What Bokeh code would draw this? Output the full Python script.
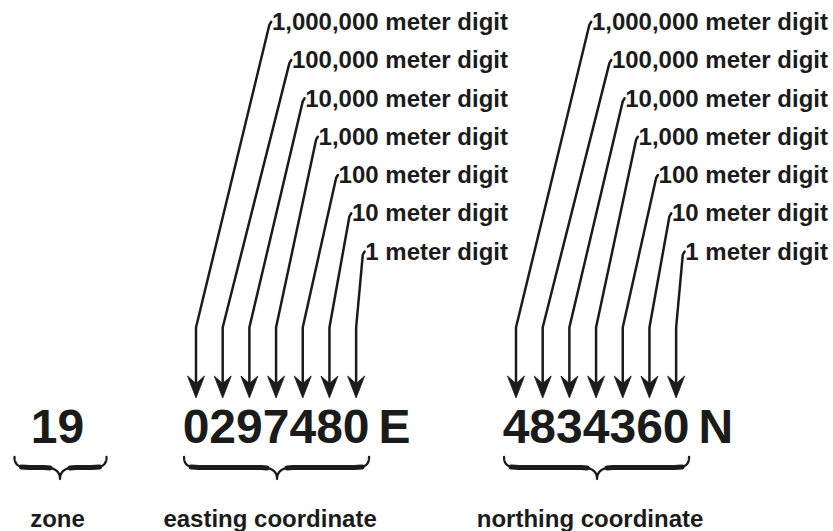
import numpy as np
from bokeh.plotting import figure
from bokeh.models import Range1d
from bokeh.core.properties import value
from bokeh.embed import file_html
from bokeh.resources import INLINE

# ---------------- data ----------------
zone = "19"
easting = "0297480"
easting_suffix = "E"
northing = "4834360"
northing_suffix = "N"
place_labels = [
    "1,000,000 meter digit",
    "100,000 meter digit",
    "10,000 meter digit",
    "1,000 meter digit",
    "100 meter digit",
    "10 meter digit",
    "1 meter digit",
]
section_labels = ["zone", "easting coordinate", "northing coordinate"]

# ---------------- style / layout ----------------
FONT = "Liberation Sans"
INK = "#1b1b1b"
LABEL_SIZE = 24
BIG_SIZE = 48
MID = 0.35  # distance from baseline to the middle of the text box, in em
# Liberation Sans Bold (Arial-metric) advance widths, in em
ADV = {c: 0.556 for c in "0123456789"}
ADV.update({",": 0.278, " ": 0.278, "m": 0.889, "e": 0.556, "t": 0.333,
            "r": 0.389, "d": 0.611, "i": 0.278, "g": 0.611})


def text_width(s, size):
    return sum(ADV[c] for c in s) * size


digit_adv = ADV["0"] * BIG_SIZE
row0, row_step = 29.3, 38.3           # baselines of the place labels
bend_y, head_base, notch_y, tip_y = 327, 375.5, 383, 397.5
num_baseline = 443
brace_end_y, brace_arm_y, brace_tip_y = 456.5, 467, 478.5
section_baseline = 526.5

groups = [
    dict(digits=easting, suffix=easting_suffix, first_x=195.5, label_right=507.5,
         title=section_labels[1]),
    dict(digits=northing, suffix=northing_suffix, first_x=515.5, label_right=827.5,
         title=section_labels[2]),
]

W, H = 833, 531
p = figure(width=W, height=H, x_range=Range1d(0, W), y_range=Range1d(H, 0),
           output_backend="svg", toolbar_location=None, min_border=0,
           x_axis_location=None, y_axis_location=None)
p.grid.visible = False
p.outline_line_color = None
p.background_fill_color = "white"
p.border_fill_color = "white"


def cubic(p0, p1, p2, p3, n=30):
    t = np.linspace(0, 1, n)[:, None]
    p0, p1, p2, p3 = map(np.asarray, (p0, p1, p2, p3))
    return (1 - t) ** 3 * p0 + 3 * (1 - t) ** 2 * t * p1 + 3 * (1 - t) * t ** 2 * p2 + t ** 3 * p3


brace_thin_xs, brace_thin_ys = [], []
brace_thick_xs, brace_thick_ys = [], []


def add_brace(x0, x1, xt):
    halves = []
    for xe in (x0, x1):
        d = 1.0 if xt > xe else -1.0
        a = xe + d * 15
        b = xt - d * 16
        s1 = cubic((xe, brace_end_y), (xe, brace_arm_y - 2), (xe + d * 5, brace_arm_y), (a, brace_arm_y))
        s3 = cubic((b, brace_arm_y), (xt - d * 5, brace_arm_y), (xt, brace_arm_y + 4), (xt, brace_tip_y))
        halves.append(np.vstack([s1, s3]))
        brace_thick_xs.append([xe + d * 7, a, b, b + d * 6])
        brace_thick_ys.append([brace_arm_y - 0.6, brace_arm_y, brace_arm_y, brace_arm_y + 0.4])
    full = np.vstack([halves[0], halves[1][::-1]])
    brace_thin_xs.append(list(full[:, 0]))
    brace_thin_ys.append(list(full[:, 1]))


line_xs, line_ys = [], []
head_xs, head_ys = [], []
lab_x, lab_y, lab_t = [], [], []
num_x, num_t = [], []
suf_x, suf_t = [], []
sec_x, sec_t = [], []

for g in groups:
    n = len(g["digits"])
    arrow_x = [g["first_x"] + digit_adv * i for i in range(n)]
    for i, lab in enumerate(place_labels):
        by = row0 + row_step * i
        lab_x.append(g["label_right"])
        lab_y.append(by - MID * LABEL_SIZE)
        lab_t.append(lab)
        left = g["label_right"] - text_width(lab, LABEL_SIZE)
        tx, ty = left - 2.5, by - 5
        ax = arrow_x[i]
        line_xs.append([tx + 1.8, tx, ax, ax])
        line_ys.append([ty - 3, ty, bend_y, notch_y])
        head_xs.append([ax, ax - 8.5, ax, ax + 8.5])
        head_ys.append([tip_y, head_base, notch_y, head_base])
    num_left = g["first_x"] - digit_adv / 2
    num_x.append(num_left)
    num_t.append(g["digits"])
    num_right = num_left + digit_adv * n
    suf_x.append(num_right + 9)
    suf_t.append(g["suffix"])
    center = (arrow_x[0] + arrow_x[-1]) / 2
    add_brace(center - 92, center + 93, center + 1)
    sec_x.append(center - 6)
    sec_t.append(g["title"])

# zone
zone_c = 57.0
add_brace(zone_c - 43, zone_c + 49, zone_c + 2.5)

# leader lines and arrowheads
p.multi_line(line_xs, line_ys, line_color=INK, line_width=2.5, line_join="round", line_cap="round")
p.patches(head_xs, head_ys, fill_color=INK, line_color=INK, line_width=0.8)

# braces
p.multi_line(brace_thin_xs, brace_thin_ys, line_color=INK, line_width=2.3,
             line_join="round", line_cap="round")
p.multi_line(brace_thick_xs, brace_thick_ys, line_color=INK, line_width=5,
             line_join="round", line_cap="round")

common = dict(text_font=value(FONT), text_font_style="bold", text_color=INK,
              text_baseline="middle")
num_y = num_baseline - MID * BIG_SIZE

p.text(lab_x, lab_y, text=lab_t, text_align="right",
       text_font_size=f"{LABEL_SIZE}px", **common)
p.text(num_x, [num_y] * len(num_x), text=num_t, text_align="left",
       text_font_size=f"{BIG_SIZE}px", **common)
p.text(suf_x, [num_y] * len(suf_x), text=suf_t, text_align="left",
       text_font_size=f"{BIG_SIZE}px", **common)
p.text([zone_c], [num_y], text=[zone], text_align="center",
       text_font_size=f"{BIG_SIZE}px", **common)
p.text([zone_c] + sec_x, [section_baseline - MID * LABEL_SIZE] * 3,
       text=[section_labels[0]] + sec_t,
       text_align="center", text_font_size=f"{LABEL_SIZE}px", **common)

open("out.html", "w").write(file_html(p, INLINE))
